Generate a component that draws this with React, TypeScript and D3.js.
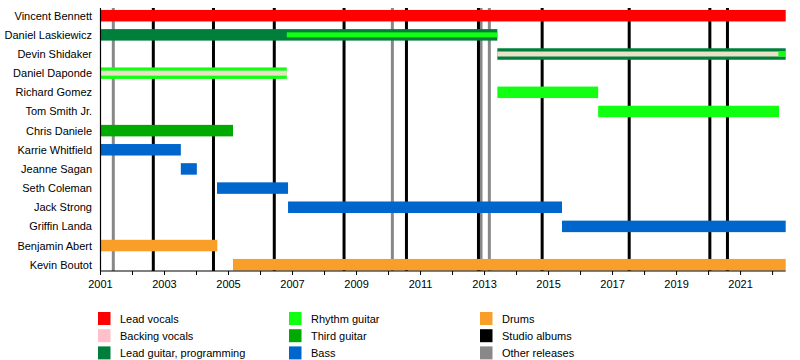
import React from 'react';
import * as d3 from 'd3';

const WIDTH = 800;
const HEIGHT = 360;
const FONT = 'Liberation Sans, Arial, sans-serif';

const END = 2022.41;

const members = [
  'Vincent Bennett',
  'Daniel Laskiewicz',
  'Devin Shidaker',
  'Daniel Daponde',
  'Richard Gomez',
  'Tom Smith Jr.',
  'Chris Daniele',
  'Karrie Whitfield',
  'Jeanne Sagan',
  'Seth Coleman',
  'Jack Strong',
  'Griffin Landa',
  'Benjamin Abert',
  'Kevin Boutot',
];

const roleNames = [
  'Lead vocals',
  'Backing vocals',
  'Lead guitar, programming',
  'Rhythm guitar',
  'Third guitar',
  'Bass',
  'Drums',
  'Studio albums',
  'Other releases',
];
const roleColors = ['#ff0000', '#ffc0cb', '#007f3a', '#11ff11', '#00aa00', '#0066cc', '#f99f29', '#000000', '#888888'];
// backing vocals stripe renders creamy on the green bars
const stripeColors: Record<string, string> = { 'Backing vocals': '#e9e2c9' };

// [member, role, from, to]
const bars: [string, string, number, number][] = [
  ['Vincent Bennett', 'Lead vocals', 2001, END],
  ['Daniel Laskiewicz', 'Lead guitar, programming', 2001, 2013.4],
  ['Devin Shidaker', 'Lead guitar, programming', 2013.4, END],
  ['Daniel Daponde', 'Rhythm guitar', 2001, 2006.82],
  ['Richard Gomez', 'Rhythm guitar', 2013.4, 2016.55],
  ['Tom Smith Jr.', 'Rhythm guitar', 2016.55, 2022.2],
  ['Chris Daniele', 'Third guitar', 2001, 2005.14],
  ['Karrie Whitfield', 'Bass', 2001, 2003.51],
  ['Jeanne Sagan', 'Bass', 2003.51, 2004.01],
  ['Seth Coleman', 'Bass', 2004.64, 2006.86],
  ['Jack Strong', 'Bass', 2006.86, 2015.42],
  ['Griffin Landa', 'Bass', 2015.42, END],
  ['Benjamin Abert', 'Drums', 2001, 2004.65],
  ['Kevin Boutot', 'Drums', 2005.14, END],
];

// thin secondary-role stripes
const stripes: [string, string, number, number][] = [
  ['Daniel Laskiewicz', 'Rhythm guitar', 2006.82, 2013.4],
  ['Devin Shidaker', 'Backing vocals', 2013.4, END],
  ['Devin Shidaker', 'Rhythm guitar', 2022.18, END],
  ['Daniel Daponde', 'Backing vocals', 2001, 2006.82],
];

const studioAlbums = [2002.65, 2004.53, 2006.43, 2008.61, 2010.56, 2012.81, 2014.8, 2017.52, 2020.04, 2020.59];
const otherReleases = [2001.4, 2010.12, 2012.89, 2013.15];

const tickYears = d3.range(2001, 2023);
const labelYears = d3.range(2001, 2023, 2);

const x = d3.scaleLinear().domain([2001, END]).range([100.5, 785.7]);
const y = d3.scalePoint<string>().domain(members).range([15.7, 264.7]);
const color = d3.scaleOrdinal<string, string>().domain(roleNames).range(roleColors);

const BAR_H = 11.5;
const STRIPE_H = 5;
const TOP = 8;
const AXIS_Y = 271;

export default function App() {
  const legendCols = [roleNames.slice(0, 3), roleNames.slice(3, 6), roleNames.slice(6, 9)];
  const colX = [98, 289, 480];

  return (
    <svg width={WIDTH} height={HEIGHT} style={{ position: 'absolute', left: 0, top: 0, background: '#fff' }}>
      {/* release markers */}
      {otherReleases.map((d, i) => (
        <line key={'o' + i} x1={x(d)} x2={x(d)} y1={TOP} y2={AXIS_Y} stroke={color('Other releases')} strokeWidth={3} />
      ))}
      {studioAlbums.map((d, i) => (
        <line key={'s' + i} x1={x(d)} x2={x(d)} y1={TOP} y2={AXIS_Y} stroke={color('Studio albums')} strokeWidth={3} />
      ))}

      {/* member bars */}
      {bars.map(([m, r, a, b], i) => (
        <rect key={'b' + i} x={x(a)} y={(y(m) ?? 0) - BAR_H / 2} width={x(b) - x(a)} height={BAR_H} fill={color(r)} />
      ))}
      {stripes.map(([m, r, a, b], i) => (
        <rect
          key={'t' + i}
          x={x(a)}
          y={(y(m) ?? 0) - STRIPE_H / 2}
          width={x(b) - x(a)}
          height={STRIPE_H}
          fill={stripeColors[r] ?? color(r)}
        />
      ))}

      {/* names */}
      {members.map((m) => (
        <text key={m} x={92} y={(y(m) ?? 0) + 4} textAnchor="end" fontFamily={FONT} fontSize={11} fill="#000">
          {m}
        </text>
      ))}

      {/* axes */}
      <line x1={x(2001)} x2={x(2001)} y1={TOP} y2={AXIS_Y} stroke="#000" strokeWidth={1.2} />
      <line x1={x(2001)} x2={x(END)} y1={AXIS_Y} y2={AXIS_Y} stroke="#000" strokeWidth={1.2} />
      {tickYears.map((t) => (
        <line key={'k' + t} x1={x(t)} x2={x(t)} y1={AXIS_Y} y2={AXIS_Y + 4} stroke="#000" strokeWidth={1} />
      ))}
      {labelYears.map((t) => (
        <text key={'l' + t} x={x(t)} y={288} textAnchor="middle" fontFamily={FONT} fontSize={11} fill="#000">
          {t}
        </text>
      ))}

      {/* legend */}
      {legendCols.map((col, ci) =>
        col.map((r, ri) => (
          <g key={r} transform={`translate(${colX[ci]}, ${312 + ri * 17.2})`}>
            <rect width={12.5} height={13} fill={color(r)} />
            <text x={22} y={11} fontFamily={FONT} fontSize={11} fill="#000">
              {r}
            </text>
          </g>
        ))
      )}
    </svg>
  );
}
